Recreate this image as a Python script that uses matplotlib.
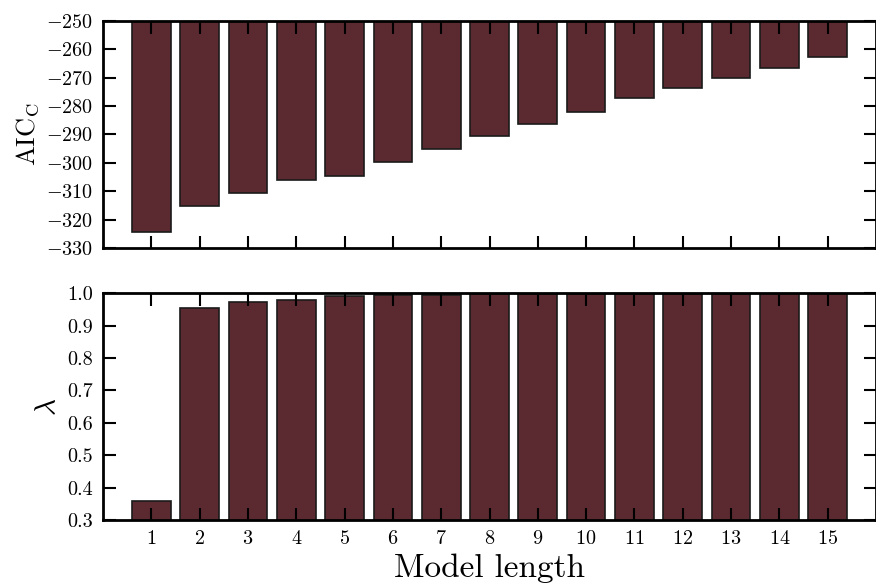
import numpy as np
import matplotlib
matplotlib.use("Agg")
import matplotlib.pyplot as plt

plt.rcParams['font.family'] = 'cmr10'
plt.rcParams['mathtext.fontset'] = 'cm'
plt.rcParams['axes.formatter.use_mathtext'] = True

# data
model_len = np.arange(1, 16)
aicc = [-324.3, -315.1, -310.6, -306.2, -304.6, -299.6, -295.0, -290.4,
        -286.3, -281.9, -277.1, -273.6, -270.0, -266.5, -262.7]
lam = [0.36, 0.955, 0.972, 0.979, 0.991, 0.994, 0.996, 0.997,
       0.998, 0.998, 0.999, 0.999, 0.999, 1.0, 1.0]

bar_col = '#5a2a30'

fig = plt.figure(figsize=(8.76, 5.86), dpi=100)
ax1 = fig.add_axes([0.1176, 0.577, 0.8824, 0.387])
ax2 = fig.add_axes([0.1176, 0.1126, 0.8824, 0.387])

top = -250
ax1.bar(model_len, np.array(aicc) - top, bottom=top, width=0.8,
        color=bar_col, edgecolor='#1a1a1a', linewidth=1.2)
ax1.set_ylim(-330, -250)
ax1.set_yticks(np.arange(-330, -249, 10))
ax1.set_ylabel(r'AIC$_{\mathrm{C}}$', fontsize=19, labelpad=4)

ax2.bar(model_len, lam, width=0.8, color=bar_col,
        edgecolor='#1a1a1a', linewidth=1.2)
ax2.set_ylim(0.3, 1.0)
ax2.set_yticks(np.arange(0.3, 1.01, 0.1))
ax2.yaxis.set_major_formatter(plt.FormatStrFormatter('%.1f'))
ax2.set_ylabel(r'$\lambda$', fontsize=21, labelpad=4)
ax2.set_xlabel('Model length', fontsize=24, labelpad=4)

for ax in (ax1, ax2):
    ax.set_xlim(0, 16)
    ax.set_xticks(model_len)
    ax.tick_params(direction='in', top=True, right=True, length=9,
                   width=1.5, labelsize=14.5, pad=7)
    for s in ax.spines.values():
        s.set_linewidth(2)
ax1.set_xticklabels([])

fig.savefig('out.png', dpi=100)
